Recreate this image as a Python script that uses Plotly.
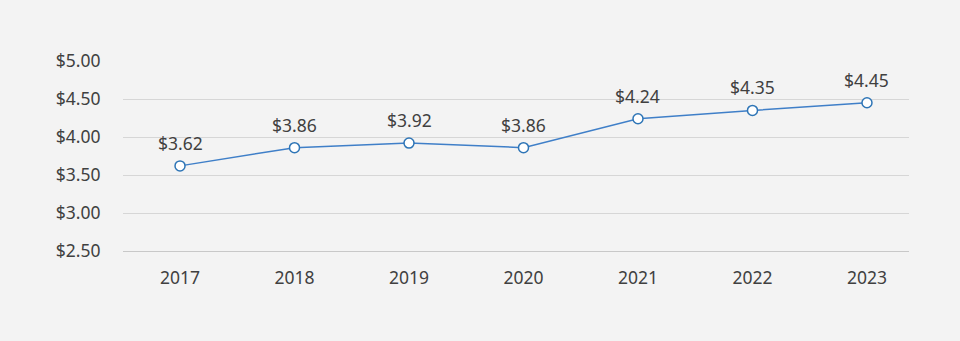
import plotly.graph_objects as go

years = ["2017", "2018", "2019", "2020", "2021", "2022", "2023"]
values = [3.62, 3.86, 3.92, 3.86, 4.24, 4.35, 4.45]
labels = ["$3.62", "$3.86", "$3.92", "$3.86", "$4.24", "$4.35", "$4.45"]
y_ticks = [2.5, 3.0, 3.5, 4.0, 4.5, 5.0]
y_ticktext = ["$2.50", "$3.00", "$3.50", "$4.00", "$4.50", "$5.00"]

xs = list(range(len(years)))

fig = go.Figure()
fig.add_trace(go.Scatter(
    x=xs, y=values, mode="lines+markers",
    line=dict(color="#3f7fc8", width=1.5),
    marker=dict(size=10, color="#ffffff", line=dict(color="#2e75b6", width=1.5)),
    cliponaxis=False, hoverinfo="skip",
))

for x, v, t in zip(xs, values, labels):
    fig.add_annotation(x=x, y=v, text=t, showarrow=False, yanchor="bottom",
                       yshift=9, font=dict(size=17.5, color="#404040"))

fig.update_layout(
    width=960, height=341,
    margin=dict(l=123, r=51, t=61, b=90),
    paper_bgcolor="#f3f3f3", plot_bgcolor="#f3f3f3",
    font=dict(family="Noto Sans", size=17.5, color="#404040"),
    showlegend=False,
    xaxis=dict(
        tickmode="array", tickvals=xs, ticktext=years,
        range=[-0.498, 6.367], showgrid=False, zeroline=False,
        showline=True, linecolor="#c8c8c8", linewidth=1,
        ticks="outside", ticklen=11, tickcolor="rgba(0,0,0,0)",
    ),
    yaxis=dict(
        tickmode="array", tickvals=y_ticks, ticktext=y_ticktext,
        range=[2.5, 5.0], showgrid=True, gridcolor="#d6d6d6", gridwidth=1,
        zeroline=False, showline=False,
        ticks="outside", ticklen=18, tickcolor="rgba(0,0,0,0)",
    ),
)

fig.write_html("out.html")
